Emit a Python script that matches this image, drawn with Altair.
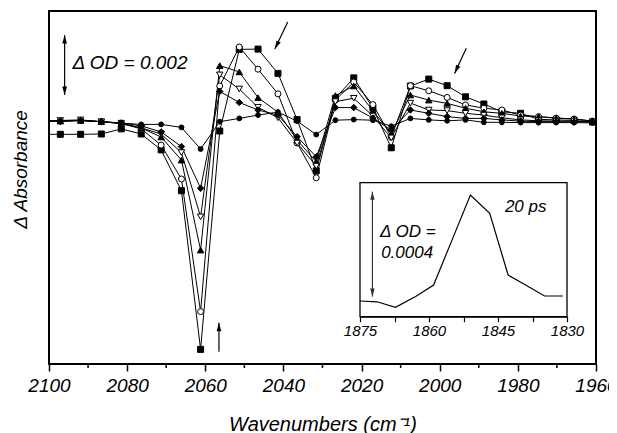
import altair as alt
import pandas as pd

# ---------------- data ----------------
wavenumber = [2101.9, 2097.1, 2091.9, 2086.6, 2081.5, 2076.4, 2071.3, 2066.1, 2061.2, 2056.3,
              2051.3, 2046.5, 2041.4, 2036.5, 2031.6, 2026.7, 2022.0, 2017.1, 2012.4, 2007.5,
              2002.8, 1998.1, 1993.4, 1988.7, 1984.1, 1979.3, 1974.7, 1970.2, 1965.6, 1960.9]

# Delta OD in units of 0.001
sq_filled = [-0.41, -0.41, -0.41, -0.40, -0.23, -0.40, -0.93, -2.29, -7.58, -0.30,
             2.42, 2.43, 1.62, 0.08, -1.63, 0.79, 1.47, 0.46, -0.86, 1.20,
             1.43, 1.21, 0.84, 0.60, 0.34, 0.29, 0.09, 0.07, 0.05, 0.00]
circ_open = [0.03, 0.03, 0.05, 0.01, -0.05, -0.23, -0.77, -1.90, -6.32, 1.20,
             2.50, 1.76, 0.94, -0.70, -1.86, 0.73, 1.33, 0.58, -0.50, 1.21,
             1.04, 0.82, 0.57, 0.46, 0.40, 0.23, 0.18, 0.13, 0.10, 0.03]
tri_filled = [0.03, 0.03, 0.05, 0.01, -0.05, -0.20, -0.50, -1.27, -4.27, 1.88,
              1.67, 0.81, 0.33, -0.60, -1.33, 0.88, 1.20, 0.37, -0.38, 0.90,
              0.73, 0.62, 0.46, 0.34, 0.29, 0.20, 0.18, 0.13, 0.10, 0.03]
tri_open = [0.03, 0.05, 0.07, 0.01, -0.04, -0.20, -0.40, -1.02, -3.16, 1.57,
            1.10, 0.49, 0.14, -0.70, -1.47, 0.68, 0.79, 0.20, -0.53, 0.63,
            0.40, 0.38, 0.29, 0.23, 0.14, 0.07, 0.04, 0.03, 0.03, 0.00]
diam_filled = [0.03, 0.03, 0.05, 0.01, -0.03, -0.13, -0.33, -0.82, -2.21, 1.02,
               0.65, 0.40, 0.23, -0.49, -1.16, 0.48, 0.48, 0.13, -0.27, 0.40,
               0.29, 0.18, 0.12, 0.12, 0.07, 0.03, 0.01, 0.01, 0.00, 0.00]
dot_filled = [0.03, 0.03, 0.05, 0.01, -0.04, -0.08, -0.08, -0.18, -0.90, 0.01,
              0.12, 0.23, 0.33, 0.03, -0.42, 0.06, 0.08, 0.06, -0.14, 0.12,
              0.07, 0.04, 0.07, -0.01, -0.01, -0.02, -0.02, -0.02, -0.02, -0.03]

# inset (20 ps), Delta OD in units of 0.0001
inset_wn = [1875.0, 1871.3, 1867.3, 1862.9, 1859.0, 1855.0, 1851.0, 1846.8, 1842.8, 1839.0, 1834.9, 1830.9]
inset_val = [0.00, -0.03, -0.24, 0.17, 0.61, 2.32, 4.04, 3.34, 0.99, 0.61, 0.19, 0.19]

main_ticks = [2100, 2080, 2060, 2040, 2020, 2000, 1980, 1960]
minor_ticks = [2090, 2070, 2050, 2030, 2010, 1990, 1970]
inset_ticks = [1875, 1867.5, 1860, 1852.5, 1845, 1837.5, 1830]

# ---------------- layout ----------------
W, H = 547, 353
FONT = "Liberation Sans"
ARROW = "M0,0 L0.5,1.8 L-0.5,1.8 Z"

series = [
    ("sq", sq_filled, "square", "black", 36),
    ("circ", circ_open, "circle", "white", 36),
    ("tri", tri_filled, "triangle-up", "black", 42),
    ("vtri", tri_open, "triangle-down", "white", 42),
    ("diam", diam_filled, "diamond", "black", 42),
    ("dot", dot_filled, "circle", "black", 24),
]
rows = []
for name, vals, *_ in series:
    for w, v in zip(wavenumber, vals):
        rows.append({"wn": w, "val": v, "series": name})
df = pd.DataFrame(rows)

xs = alt.Scale(domain=[2100, 1960], nice=False, zero=False)
ys = alt.Scale(domain=[-8.067, 3.7], nice=False, zero=False)

xaxis = alt.Axis(values=main_ticks, format="d", tickSize=7, tickWidth=1.5, tickColor="black",
                 domain=False, grid=False, labelFlush=False, labelOverlap=False,
                 labelFont=FONT, labelFontStyle="italic", labelFontSize=19, labelColor="black",
                 labelPadding=5, title="Wavenumbers (cm⁻¹)", titleFont=FONT, titleFontSize=20,
                 titleFontStyle="italic", titleFontWeight="normal", titleColor="black",
                 titlePadding=19)
yaxis = alt.Axis(ticks=False, labels=False, domain=False, grid=False,
                 title="Δ Absorbance", titleFont=FONT, titleFontSize=19, titleFontStyle="italic",
                 titleFontWeight="normal", titleColor="black", titleX=-23, titleY=158,
                 titleBaseline="alphabetic", titleAngle=270)

lines = alt.Chart(df).mark_line(color="black", strokeWidth=1, clip=True).encode(
    x=alt.X("wn:Q", scale=xs, axis=xaxis),
    y=alt.Y("val:Q", scale=ys, axis=yaxis),
    detail="series:N",
)
point_layers = []
for name, vals, shape, fill, size in series:
    point_layers.append(
        alt.Chart(df[df.series == name]).mark_point(
            shape=shape, filled=True, fill=fill, stroke="black", strokeWidth=1,
            size=size, opacity=1, clip=True
        ).encode(x=alt.X("wn:Q", scale=xs), y=alt.Y("val:Q", scale=ys))
    )

minor = alt.Chart(pd.DataFrame({"wn": minor_ticks})).mark_rule(
    color="black", strokeWidth=1.5, clip=False
).encode(x=alt.X("wn:Q", scale=xs), y=alt.value(H), y2=alt.value(H + 4))

frame = alt.Chart(pd.DataFrame({"k": [0]})).mark_rect(
    fill=None, stroke="black", strokeWidth=2, fillOpacity=0
).encode(x=alt.value(0), x2=alt.value(W), y=alt.value(0), y2=alt.value(H))

# arrows in the main panel
shafts = pd.DataFrame({
    "x1": [2096.0, 2038.9, 1993.2, 2056.5],
    "y1": [2.9, 3.33, 2.46, -7.66],
    "x2": [2096.0, 2042.2, 1996.2, 2056.5],
    "y2": [0.9, 2.43, 1.62, -6.69],
})
heads = pd.DataFrame({
    "x": [2096.0, 2096.0, 2042.2, 1996.2, 2056.5],
    "y": [2.9, 0.9, 2.43, 1.62, -6.69],
    "ang": [0, 180, 206.6, 205.1, 0],
})
shaft_layer = alt.Chart(shafts).mark_rule(color="black", strokeWidth=1.2).encode(
    x=alt.X("x1:Q", scale=xs), y=alt.Y("y1:Q", scale=ys),
    x2="x2:Q", y2="y2:Q")
head_layer = alt.Chart(heads).mark_point(
    shape=ARROW, filled=True, color="black", size=90, opacity=1
).encode(x=alt.X("x:Q", scale=xs), y=alt.Y("y:Q", scale=ys),
         angle=alt.Angle("ang:Q", scale=None))

label_main = alt.Chart(pd.DataFrame({"x": [2094.0], "y": [1.957], "t": ["Δ OD = 0.002"]})).mark_text(
    align="left", baseline="middle", font=FONT, fontSize=19, fontStyle="italic", color="black"
).encode(x=alt.X("x:Q", scale=xs), y=alt.Y("y:Q", scale=ys), text="t:N")

main = alt.layer(lines, *point_layers, minor, frame, shaft_layer, head_layer, label_main)

# ---------------- inset ----------------
ixs = alt.Scale(domain=[1875, 1830], range=[311, 518], nice=False, zero=False)
iys = alt.Scale(domain=[-0.598, 4.507], range=[305.7, 171.7], nice=False, zero=False)
iaxis = alt.Axis(orient="bottom", offset=-47.3, values=inset_ticks,
                 labelExpr="datum.value % 15 == 0 ? datum.label : ''",
                 format="d", tickSize=5, tickWidth=1.2, tickColor="black",
                 domain=True, domainColor="black", domainWidth=1.3,
                 grid=False, labelFlush=False, labelOverlap=False,
                 labelFont=FONT, labelFontStyle="italic", labelFontSize=15, labelColor="black",
                 labelPadding=2, title=None)

box = alt.Chart(pd.DataFrame({"a": [1875], "b": [1830], "lo": [-0.598], "hi": [4.507]})).mark_rect(
    fill="white", stroke="black", strokeWidth=1.3
).encode(x=alt.X("a:Q", scale=ixs, axis=iaxis), x2="b:Q",
         y=alt.Y("lo:Q", scale=iys, axis=None), y2="hi:Q")

inset_line = alt.Chart(pd.DataFrame({"wn": inset_wn, "v": inset_val})).mark_line(
    color="black", strokeWidth=1.2
).encode(x=alt.X("wn:Q", scale=ixs), y=alt.Y("v:Q", scale=iys))

ishaft = alt.Chart(pd.DataFrame({"x": [1872.3], "a": [0.165], "b": [4.165]})).mark_rule(
    color="#333333", strokeWidth=1.2
).encode(x=alt.X("x:Q", scale=ixs), y=alt.Y("a:Q", scale=iys), y2="b:Q")
iheads = alt.Chart(pd.DataFrame({"x": [1872.3, 1872.3], "y": [4.165, 0.165], "ang": [0, 180]})).mark_point(
    shape=ARROW, filled=True, color="#333333", size=80, opacity=1
).encode(x=alt.X("x:Q", scale=ixs), y=alt.Y("y:Q", scale=iys),
         angle=alt.Angle("ang:Q", scale=None))

itext = alt.Chart(pd.DataFrame({
    "x": [1870.65, 1870.4, 1843.5],
    "y": [2.64, 1.817, 3.59],
    "t": ["Δ OD =", "0.0004", "20 ps"],
})).mark_text(align="left", baseline="middle", font=FONT, fontSize=17, fontStyle="italic",
              color="black").encode(x=alt.X("x:Q", scale=ixs), y=alt.Y("y:Q", scale=iys), text="t:N")

inset = alt.layer(box, inset_line, ishaft, iheads, itext)

chart = alt.layer(main, inset).resolve_scale(x="independent", y="independent").properties(
    width=W, height=H,
    autosize=alt.AutoSizeParams(type="none"),
    padding={"left": 41, "top": 3, "right": 13, "bottom": 70},
).configure_view(strokeWidth=0).configure(background="white")

chart.save("out.html", embed_options={"renderer": "svg", "actions": False})
